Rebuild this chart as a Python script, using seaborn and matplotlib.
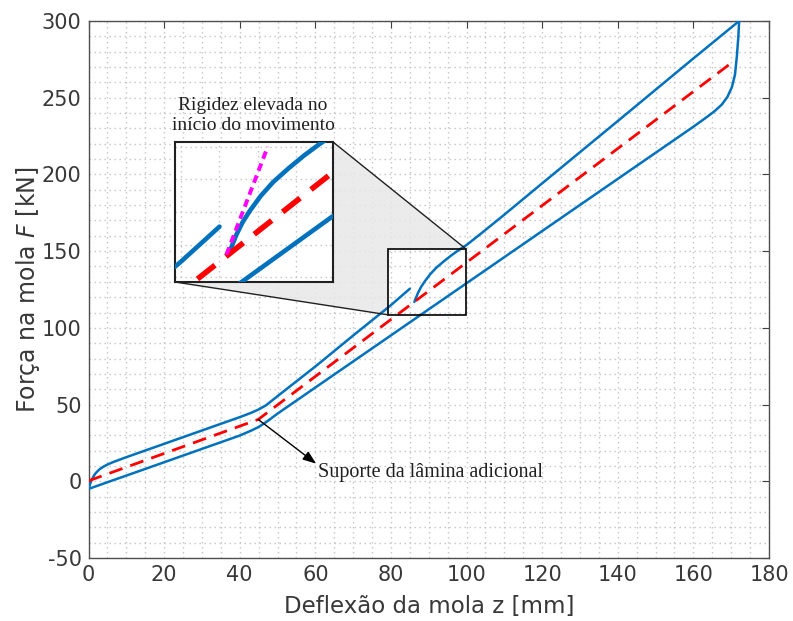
import numpy as np
import pandas as pd
import matplotlib
matplotlib.use("Agg")
import matplotlib.pyplot as plt
import seaborn as sns
from matplotlib.ticker import MultipleLocator
from matplotlib.patches import Polygon, Rectangle

# ----------------------------------------------------------------------------
# Data
# ----------------------------------------------------------------------------
# loading branch, first part (up to the jump at z ~ 85 mm)
load_a_z = [0, 0.5, 1, 1.5, 2, 3, 4, 5, 6.6, 10, 20, 30, 40, 43, 45, 47, 50,
            60, 70, 80, 85]
load_a_f = [-5, -1.2, 1.7, 3.9, 5.6, 8.0, 9.6, 10.9, 12.6, 15.7, 24.4, 33.1,
            41.8, 44.6, 46.8, 49.6, 55.5, 74.8, 95.0, 114.8, 125.5]

# loading branch, second part (high initial stiffness)
load_b_z = [86.2, 86.6, 87.2, 88, 89, 90.4, 92, 94, 96, 98, 100, 104, 110,
            120, 130, 140, 150, 160, 172.1]
load_b_f = [116.9, 119.5, 123, 126.8, 130.5, 135, 139.2, 143.4, 147.3, 150.8,
            154, 161.8, 173.8, 194.2, 214.5, 234.8, 255.2, 275.6, 300]

# unloading branch
unload_z = [172.1, 171.9, 171.5, 171, 170.2, 169, 167.5, 165.5, 163, 160,
            150, 140, 120, 100, 80, 60, 50, 47, 45, 43, 40, 30, 20, 10, 5, 0]
unload_f = [300, 290, 277, 265, 257, 250.5, 245.5, 241, 236.4, 231.1,
            214.1, 197.1, 163.1, 129.1, 95.1, 61.1, 44.1, 38.6, 35.4, 33.0,
            29.8, 21.1, 12.4, 3.7, -0.6, -5]

# mean characteristic (red dashed)
mean_z = [0, 44.9, 170.5]
mean_f = [0.3, 40.3, 273.5]

# initial stiffness (magenta, inset only)
stiff_z = [85.9, 91.3]
stiff_f = [116.9, 150.1]

# zoom window
zoom_z = (79.2, 99.8)
zoom_f = (108.5, 151.5)

BLUE = "#0072BD"
RED = "#FF0000"
MAGENTA = "#FF00FF"
TEXT = "#383838"
GRID = dict(ls=(0, (1, 2.6)), color="#c4c4c4", lw=1.0)

sns.set_style("white")
plt.rcParams["font.family"] = ["DejaVu Sans"]
plt.rcParams["mathtext.fontset"] = "dejavusans"
plt.rcParams["axes.unicode_minus"] = False

fig = plt.figure(figsize=(7.93, 6.21), dpi=100)
ax = fig.add_axes([88.5 / 793, 1 - 558 / 621, (769 - 88.5) / 793, (558 - 21) / 621])


def draw_curves(axis, lw_blue, lw_red, dash):
    for zz, ff in [(load_a_z, load_a_f), (load_b_z, load_b_f), (unload_z, unload_f)]:
        d = pd.DataFrame({"z": zz, "F": ff})
        sns.lineplot(data=d, x="z", y="F", sort=False, estimator=None,
                     color=BLUE, lw=lw_blue, ax=axis, zorder=3)
    d = pd.DataFrame({"z": mean_z, "F": mean_f})
    sns.lineplot(data=d, x="z", y="F", sort=False, estimator=None,
                 color=RED, lw=lw_red, ax=axis, zorder=4)
    axis.lines[-1].set_dashes(dash)


draw_curves(ax, 1.8, 2.0, (5, 3))

ax.set_xlim(0, 180)
ax.set_ylim(-50, 300)
ax.xaxis.set_major_locator(MultipleLocator(20))
ax.yaxis.set_major_locator(MultipleLocator(50))
ax.xaxis.set_minor_locator(MultipleLocator(5))
ax.yaxis.set_minor_locator(MultipleLocator(10))
ax.grid(True, which="both", zorder=0, **GRID)
ax.set_axisbelow(True)
ax.tick_params(which="major", direction="in", top=True, right=True, length=5,
               width=0.8, color="#404040", labelcolor=TEXT, labelsize=15, pad=5)
ax.tick_params(which="minor", length=0)
for s in ax.spines.values():
    s.set_color("#505050")
    s.set_linewidth(1.0)
ax.set_xlabel("Deflexão da mola z [mm]", fontsize=16.5, color=TEXT, labelpad=7)
ax.set_ylabel("Força na mola $F$ [kN]", fontsize=17, color=TEXT, labelpad=0)

# zoom rectangle on the main plot
ax.add_patch(Rectangle((zoom_z[0], zoom_f[0]), zoom_z[1] - zoom_z[0], zoom_f[1] - zoom_f[0],
                       fill=False, ec="black", lw=1.2, zorder=6))

# inset
inset_pos = [175 / 793, 1 - 282 / 621, 158 / 793, 140 / 621]
axin = fig.add_axes(inset_pos)
draw_curves(axin, 3.3, 4.0, (4, 2.5))
d = pd.DataFrame({"z": stiff_z, "F": stiff_f})
sns.lineplot(data=d, x="z", y="F", sort=False, estimator=None, color=MAGENTA,
             lw=2.8, ax=axin, zorder=5)
axin.lines[-1].set_dashes((2.0, 1.3))
axin.set_xlim(*zoom_z)
axin.set_ylim(*zoom_f)
axin.xaxis.set_major_locator(MultipleLocator(5))
axin.yaxis.set_major_locator(MultipleLocator(10))
axin.grid(True, **GRID)
axin.set_axisbelow(True)
axin.tick_params(length=0, labelbottom=False, labelleft=False)
axin.set_xlabel("")
axin.set_ylabel("")
for s in axin.spines.values():
    s.set_color("#202020")
    s.set_linewidth(1.5)

# grey connector area between inset and zoom box
to_data = ax.transData.inverted()
l, b, w, h = inset_pos
tr = to_data.transform(fig.transFigure.transform((l + w, b + h)))
bl = to_data.transform(fig.transFigure.transform((l, b)))
br = to_data.transform(fig.transFigure.transform((l + w, b)))
poly = [tr, (zoom_z[1], zoom_f[1]), (zoom_z[0], zoom_f[1]), (zoom_z[0], zoom_f[0]),
        bl, br]
ax.add_patch(Polygon(poly, closed=True, fc="#e8e8e8", ec="none", alpha=0.85, zorder=1))
ax.plot([tr[0], zoom_z[1]], [tr[1], zoom_f[1]], color="#202020", lw=1.0, zorder=6)
ax.plot([bl[0], zoom_z[0]], [bl[1], zoom_f[0]], color="#202020", lw=1.0, zorder=6)

# annotations
ax.text(43.5, 238.3, "Rigidez elevada no\ninício do movimento", ha="center",
        va="center", family="Liberation Serif", fontsize=14, color="#202020",
        linespacing=1.25)
ax.annotate("", xy=(60.2, 11.5), xytext=(44.9, 40.3),
            arrowprops=dict(arrowstyle="-|>,head_length=0.8,head_width=0.3",
                            color="black", lw=1.0, shrinkA=0, shrinkB=0), zorder=7)
ax.text(60.7, 5.5, "Suporte da lâmina adicional", ha="left", va="center",
        family="Liberation Serif", fontsize=14.5, color="#202020")

fig.savefig("out.png", dpi=100)
